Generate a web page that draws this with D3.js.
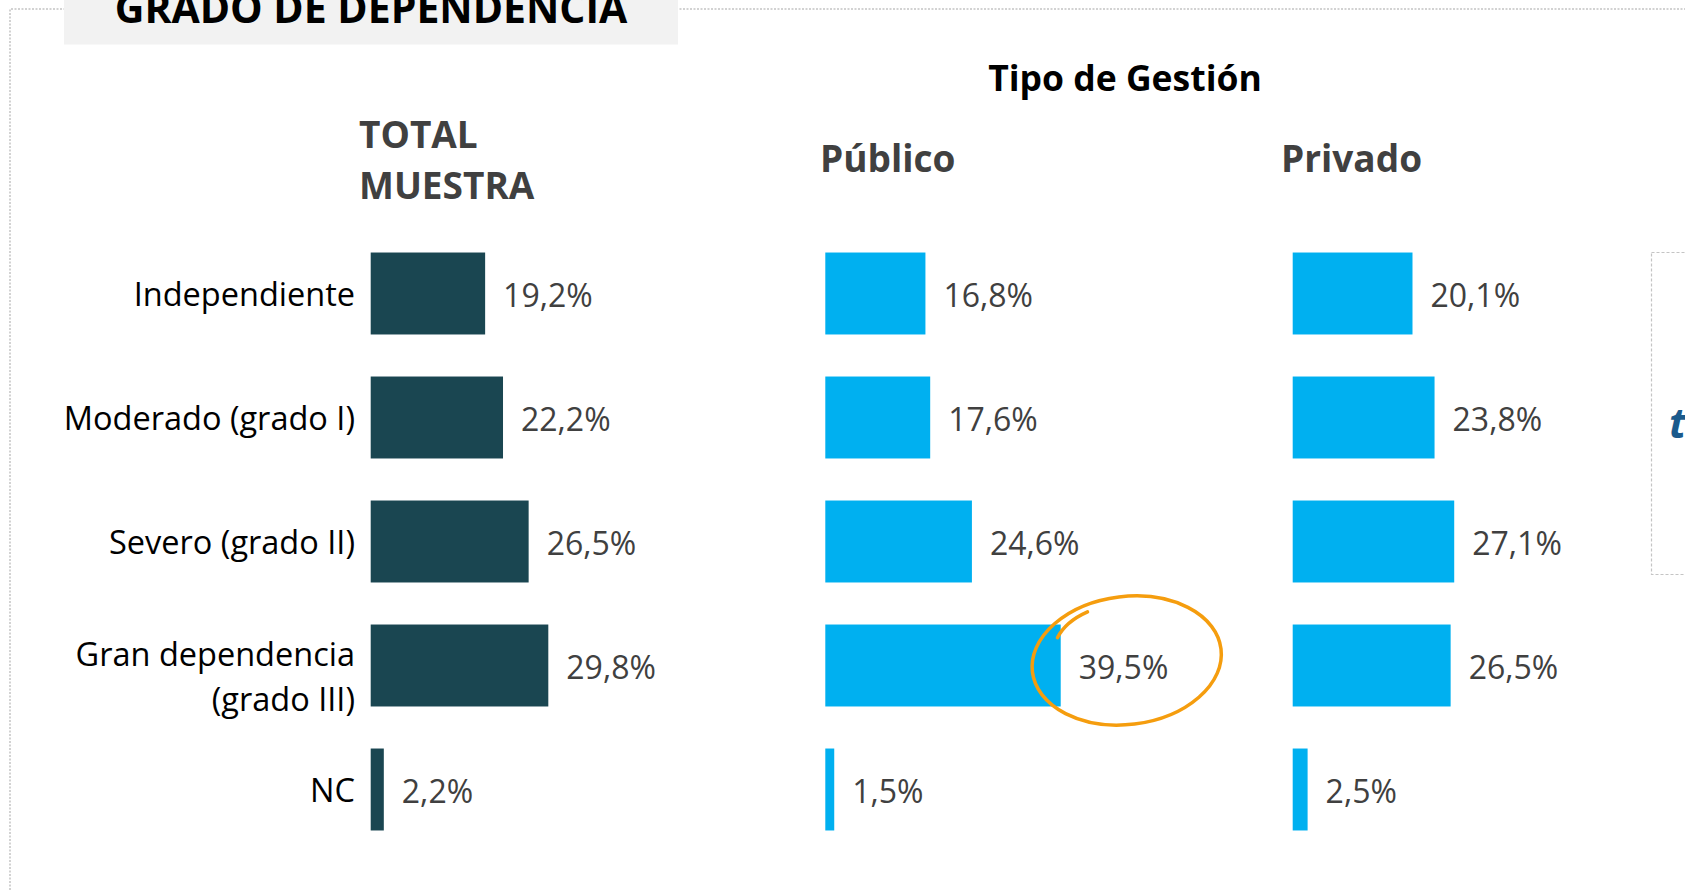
<!DOCTYPE html>
<html>
    <head>
        <meta charset="utf-8">
        <title>Grado de dependencia</title>
        <script src="https://d3js.org/d3.v7.min.js"></script>
        <style>
            body { margin: 0; background: #fff; }
            text { font-family: "Open Sans", "Noto Sans", sans-serif; }
        </style>
    </head>
    <body>
        <div id="chart"></div>

        <script>
            // datos (porcentaje sobre el total de cada grupo)
            var categories = ["Independiente", "Moderado (grado I)", "Severo (grado II)", "Gran dependencia (grado III)", "NC"];
            var categoryLines = [["Independiente"], ["Moderado (grado I)"], ["Severo (grado II)"], ["Gran dependencia", "(grado III)"], ["NC"]];
            var totalValues = [19.2, 22.2, 26.5, 29.8, 2.2];
            var publicoValues = [16.8, 17.6, 24.6, 39.5, 1.5];
            var privadoValues = [20.1, 23.8, 27.1, 26.5, 2.5];
            var highlight = {panel: "publico", category: "Gran dependencia (grado III)"};

            var W = 1685, H = 890;

            var locale = d3.formatLocale({decimal: ",", thousands: ".", grouping: [3], currency: ["", "€"]});
            var fmt = locale.format(".1f");

            var svg = d3.select("#chart")
                .append("svg")
                .attr("width", W)
                .attr("height", H);

            // marco punteado
            svg.append("path")
                .attr("d", "M10," + H + "V9H" + W)
                .attr("fill", "none")
                .attr("stroke", "#c4c4c4")
                .attr("stroke-width", 1.5)
                .attr("stroke-dasharray", "2,1.5");

            // caja del titulo (recortada arriba como en el original)
            svg.append("rect")
                .attr("x", 64).attr("y", 0)
                .attr("width", 614).attr("height", 44.5)
                .attr("fill", "#f2f2f2");
            svg.append("text")
                .attr("x", 371).attr("y", 23)
                .attr("text-anchor", "middle")
                .attr("font-size", 41)
                .attr("font-weight", 700)
                .attr("fill", "#000")
                .text("GRADO DE DEPENDENCIA");

            // caja recortada a la derecha
            svg.append("rect")
                .attr("x", 1651.5).attr("y", 252.5)
                .attr("width", 100).attr("height", 322)
                .attr("fill", "none")
                .attr("stroke", "#c4c4c4")
                .attr("stroke-width", 1.2)
                .attr("stroke-dasharray", "3,2");
            svg.append("text")
                .attr("x", 1669).attr("y", 438)
                .attr("font-size", 42)
                .attr("font-weight", 700)
                .attr("font-style", "italic")
                .attr("fill", "#1b5a8c")
                .text("t");

            // escalas
            var x = d3.scaleLinear()
                .domain([0, 100])
                .range([0, 596]);

            var y = d3.scaleBand()
                .domain(categories)
                .range([231.5, 851.5])
                .paddingInner(0.339)
                .paddingOuter(0.1695);

            var panels = [
                {key: "total", x0: 370.7, color: "#1a4651", values: totalValues},
                {key: "publico", x0: 825.3, color: "#00b0f0", values: publicoValues},
                {key: "privado", x0: 1292.7, color: "#00b0f0", values: privadoValues}
            ];

            // encabezados
            svg.append("text")
                .attr("x", 1125).attr("y", 91)
                .attr("text-anchor", "middle")
                .attr("font-size", 35.5)
                .attr("font-weight", 700)
                .attr("fill", "#000")
                .text("Tipo de Gestión");

            var heads = svg.append("g")
                .attr("font-size", 37)
                .attr("font-weight", 700)
                .attr("fill", "#404040");
            heads.append("text").attr("x", 359).attr("y", 148).text("TOTAL");
            heads.append("text").attr("x", 359).attr("y", 199).text("MUESTRA");
            heads.append("text").attr("x", 820).attr("y", 172).text("Público");
            heads.append("text").attr("x", 1281).attr("y", 172).text("Privado");

            // etiquetas de categoria
            var cat = svg.append("g")
                .attr("text-anchor", "end")
                .attr("font-size", 32.5)
                .attr("fill", "#000")
                .selectAll("text")
                .data(categories)
                .enter().append("text")
                .attr("x", 355)
                .attr("y", function(d) { return y(d) + y.bandwidth() / 2; });

            cat.selectAll("tspan")
                .data(function(d, i) {
                    var lines = categoryLines[i];
                    return lines.map(function(l, j) { return {t: l, j: j, n: lines.length}; });
                })
                .enter().append("tspan")
                .attr("x", 355)
                .attr("dy", function(d) {
                    if (d.n == 1) return "0.38em";
                    return d.j == 0 ? "0em" : "1.4em";
                })
                .text(function(d) { return d.t; });

            // barras y valores
            panels.forEach(function(p) {
                var g = svg.append("g")
                    .attr("transform", "translate(" + p.x0 + ",0)");

                g.selectAll("rect")
                    .data(p.values)
                    .enter().append("rect")
                    .attr("x", 0)
                    .attr("y", function(d, i) { return y(categories[i]); })
                    .attr("width", function(d) { return x(d); })
                    .attr("height", y.bandwidth())
                    .attr("fill", p.color);

                g.selectAll("text")
                    .data(p.values)
                    .enter().append("text")
                    .attr("x", function(d) { return x(d) + 18; })
                    .attr("y", function(d, i) { return y(categories[i]) + y.bandwidth() / 2; })
                    .attr("dy", "0.43em")
                    .attr("font-size", 32)
                    .attr("fill", "#404040")
                    .text(function(d) { return fmt(d) + "%"; });

                // circulo naranja a mano
                if (p.key == highlight.panel) {
                    var i = categories.indexOf(highlight.category);
                    var cx = p.x0 + x(p.values[i]) + 18 + 48;
                    var cy = y(highlight.category) + y.bandwidth() / 2 - 5;
                    var ring = svg.append("g")
                        .attr("transform", "translate(" + cx + "," + cy + ") rotate(-7)")
                        .attr("fill", "none")
                        .attr("stroke", "#f59d0e")
                        .attr("stroke-width", 3.5)
                        .attr("stroke-linecap", "round");
                    ring.append("ellipse")
                        .attr("rx", 95)
                        .attr("ry", 64);
                    ring.append("path")
                        .attr("d", "M-66,-31Q-56,-46 -33,-53");
                }
            });
        </script>
    </body>
</html>
